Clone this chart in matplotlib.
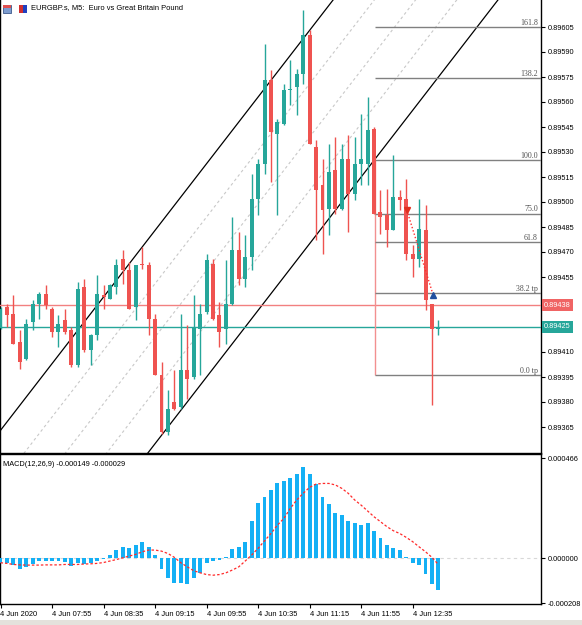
import matplotlib
matplotlib.use('Agg')
import matplotlib.pyplot as plt
from matplotlib.patches import Rectangle

plt.rcParams['font.family'] = ['Liberation Sans', 'DejaVu Sans']

# EURGBP.s M5 candles, 4 Jun 2020 07:15 .. 12:55 (one value per bar)
open_ = [0.89425, 0.89437, 0.89433, 0.89416, 0.89406, 0.89428, 0.89439, 0.89445, 0.89436, 0.89422,
         0.89429, 0.89423, 0.89402, 0.89449, 0.89411, 0.89420, 0.89444, 0.89442, 0.89449, 0.89466,
         0.89459, 0.89437, 0.89463, 0.89462, 0.89430, 0.89396, 0.89362, 0.89380, 0.89377, 0.89399,
         0.89395, 0.89424, 0.89434, 0.89463, 0.89432, 0.89424, 0.89439, 0.89471, 0.89454, 0.89467,
         0.89502, 0.89523, 0.89573, 0.89541, 0.89547, 0.89567, 0.89569, 0.89577, 0.89600, 0.89533,
         0.89510, 0.89496, 0.89519, 0.89496, 0.89526, 0.89505, 0.89523, 0.89523, 0.89544, 0.89494,
         0.89492, 0.89483, 0.89503, 0.89502, 0.89469, 0.89466, 0.89483, 0.89439, 0.89424]
high = [0.89437, 0.89439, 0.89444, 0.89423, 0.89430, 0.89441, 0.89446, 0.89450, 0.89437, 0.89432,
        0.89436, 0.89425, 0.89452, 0.89454, 0.89421, 0.89456, 0.89450, 0.89451, 0.89466, 0.89471,
        0.89464, 0.89462, 0.89473, 0.89464, 0.89433, 0.89404, 0.89387, 0.89399, 0.89433, 0.89426,
        0.89444, 0.89439, 0.89469, 0.89466, 0.89440, 0.89465, 0.89491, 0.89482, 0.89480, 0.89517,
        0.89526, 0.89595, 0.89579, 0.89550, 0.89571, 0.89585, 0.89580, 0.89615, 0.89603, 0.89537,
        0.89526, 0.89535, 0.89539, 0.89535, 0.89540, 0.89539, 0.89553, 0.89563, 0.89545, 0.89507,
        0.89508, 0.89528, 0.89507, 0.89514, 0.89474, 0.89502, 0.89498, 0.89439, 0.89429]
low = [0.89424, 0.89425, 0.89415, 0.89400, 0.89405, 0.89423, 0.89430, 0.89436, 0.89419, 0.89413,
       0.89421, 0.89401, 0.89401, 0.89410, 0.89402, 0.89417, 0.89436, 0.89442, 0.89445, 0.89451,
       0.89436, 0.89429, 0.89460, 0.89420, 0.89396, 0.89361, 0.89360, 0.89375, 0.89376, 0.89382,
       0.89394, 0.89396, 0.89433, 0.89429, 0.89413, 0.89415, 0.89438, 0.89450, 0.89449, 0.89459,
       0.89492, 0.89517, 0.89512, 0.89492, 0.89546, 0.89558, 0.89552, 0.89571, 0.89535, 0.89477,
       0.89469, 0.89480, 0.89493, 0.89495, 0.89482, 0.89501, 0.89510, 0.89510, 0.89493, 0.89481,
       0.89473, 0.89483, 0.89495, 0.89465, 0.89455, 0.89461, 0.89435, 0.89378, 0.89420]
close = [0.89436, 0.89432, 0.89415, 0.89404, 0.89427, 0.89439, 0.89445, 0.89438, 0.89422, 0.89427,
         0.89422, 0.89402, 0.89448, 0.89411, 0.89420, 0.89445, 0.89443, 0.89450, 0.89462, 0.89459,
         0.89436, 0.89462, 0.89462, 0.89430, 0.89396, 0.89362, 0.89376, 0.89376, 0.89399, 0.89394,
         0.89425, 0.89433, 0.89465, 0.89430, 0.89422, 0.89439, 0.89471, 0.89454, 0.89467, 0.89502,
         0.89523, 0.89573, 0.89542, 0.89548, 0.89567, 0.89568, 0.89577, 0.89600, 0.89535, 0.89507,
         0.89495, 0.89518, 0.89496, 0.89526, 0.89505, 0.89523, 0.89526, 0.89543, 0.89493, 0.89491,
         0.89483, 0.89503, 0.89501, 0.89469, 0.89466, 0.89484, 0.89441, 0.89424, 0.89425]

# MACD(12,26,9) in millionths
macd_main = [-23, -23, -31, -47, -39, -28, -12, -11, -11, -12, -16, -34, -23, -28, -23, -11, -3, 16, 39, 54,
             47, 62, 75, 54, 16, -50, -89, -113, -113, -120, -93, -67, -20, -12, -8, 5, 43, 54, 78, 174,
             256, 287, 318, 349, 362, 373, 393, 427, 393, 345, 284, 253, 213, 202, 174, 163, 155, 163, 127, 93,
             62, 50, 39, 5, -23, -31, -73, -120, -149]
macd_signal = [-20, -23, -28, -30, -31, -31, -31, -30, -30, -30, -28, -28, -28, -26, -25, -23, -19, -12, -5, 3,
               11, 19, 31, 39, 39, 34, 23, 5, -20, -39, -57, -67, -75, -78, -75, -67, -54, -39, -12, 16,
               47, 82, 116, 155, 186, 233, 272, 303, 331, 346, 349, 349, 342, 326, 303, 272, 248, 221, 194, 171,
               148, 129, 116, 98, 78, 54, 31, 5, -29]

time_ticks = [0, 8, 16, 24, 32, 40, 48, 56, 64]
time_labels = ['4 Jun 2020', '4 Jun 07:55', '4 Jun 08:35', '4 Jun 09:15', '4 Jun 09:55',
               '4 Jun 10:35', '4 Jun 11:15', '4 Jun 11:55', '4 Jun 12:35']
price_ticks = [0.89365, 0.89380, 0.89395, 0.89410, 0.89425, 0.89440, 0.89455, 0.89470,
               0.89485, 0.89500, 0.89515, 0.89530, 0.89545, 0.89560, 0.89575, 0.89590, 0.89605]
macd_ticks = [-0.000208, 0.0, 0.000466]

bid_price = 0.89425
ask_price = 0.89438

# fibonacci retracement
fib_bar = 58.2
fib_p0, fib_p100 = 0.89396, 0.89525
fib_levels = [0.0, 38.2, 61.8, 75.0, 100.0, 138.2, 161.8]
fib_labels = ['0.0 tp', '38.2 tp', '61.8', '75.0', '100.0', '138.2', '161.8']

# equidistant channel (upper line anchors + width)
chan_x = [0, 40]
chan_y = [0.89363, 0.89563]
chan_width = 0.00128

# closed trade
trade_x = [63.1, 67.2]
trade_y = [0.89495, 0.89444]

BULL = '#26a69a'
BEAR = '#ef5350'

fig = plt.figure(figsize=(5.82, 6.25), dpi=100)
ax = fig.add_axes([0, 1 - 452.5 / 625, 541 / 582, 452.5 / 625])
axm = fig.add_axes([0, 21 / 625, 541 / 582, 150 / 625])

xlim = (-0.5 / 6.44, 540.5 / 6.44)
n = len(close)
idx = list(range(n))

# candles
for i in idx:
    col = BULL if close[i] >= open_[i] else BEAR
    ax.vlines(i, low[i], high[i], color=col, lw=1, zorder=4)
    h = max(abs(close[i] - open_[i]), 0.000004)
    ax.bar(i, h, bottom=min(open_[i], close[i]), width=0.62, color=col, lw=0, zorder=5)

# channel
slope = (chan_y[1] - chan_y[0]) / (chan_x[1] - chan_x[0])
xs = [xlim[0], xlim[1]]
upper = [chan_y[0] + slope * (x - chan_x[0]) for x in xs]
ax.plot(xs, upper, color='black', lw=0.9, zorder=3)
ax.plot(xs, [u - chan_width for u in upper], color='black', lw=0.9, zorder=3)
for f in [0.25, 0.5, 0.75]:
    ax.plot(xs, [u - chan_width * f for u in upper], color='#c8c8c8', lw=0.8,
            ls=(0, (2.5, 2.5)), zorder=2)

# bid / ask lines
ax.axhline(ask_price, color='#f28080', lw=1, zorder=3)
ax.axhline(bid_price, color=BULL, lw=1, zorder=3)

# fibonacci
fib_prices = [fib_p0 + (fib_p100 - fib_p0) * lv / 100 for lv in fib_levels]
ax.vlines(fib_bar, fib_p0, fib_p100, color='#f29090', lw=1, zorder=3)
for p, lab in zip(fib_prices, fib_labels):
    ax.hlines(p, fib_bar, xlim[1], color='#808080', lw=1, zorder=3)
    ax.text(xlim[1] - 0.5, p + 0.000004, lab, ha='right', va='bottom', fontsize=5.7,
            family='Liberation Serif', color='#505050', zorder=6)

# trade
ax.plot(trade_x, trade_y, color='#ff3030', lw=1, ls=(0, (1, 1.5)), zorder=6)
ax.plot(trade_x[0], trade_y[0], marker='v', color='#e03020', ms=4, zorder=7)
ax.plot(trade_x[1], trade_y[1], marker='^', color='#2050a0', ms=4, zorder=7)

ax.set_xlim(*xlim)
ax.set_ylim(0.893497, 0.896212)
ax.yaxis.tick_right()
ax.set_yticks(price_ticks)
# labels covered by the bid/ask boxes are left out
ax.set_yticklabels(['' if abs(p - bid_price) < 5e-5 or abs(p - ask_price) < 5e-5 else '%.5f' % p
                    for p in price_ticks])
ax.tick_params(axis='y', direction='out', length=3, width=0.8, pad=1.5, labelsize=5.3)
ax.set_xticks([])
ax.spines['top'].set_visible(False)
for s in ['left', 'right', 'bottom']:
    ax.spines[s].set_linewidth(1)

# price boxes on the axis
for p, col in [(ask_price, '#f06464'), (bid_price, BULL)]:
    ax.text(1.006, p, '%.5f' % p, transform=ax.get_yaxis_transform(), ha='left', va='center',
            fontsize=5.3, color='white', clip_on=False, zorder=10,
            bbox=dict(boxstyle='square,pad=0.32', fc=col, ec='none'))

# title with icons
ax.text(0.058, 0.983, 'EURGBP.s, M5:  Euro vs Great Britain Pound', transform=ax.transAxes,
        fontsize=5.4, ha='left', va='center', color='black', zorder=10)
fig.patches.append(Rectangle((3 / 582, 1 - 13 / 625), 8 / 582, 8 / 625, transform=fig.transFigure,
                             fc='#7d9ccf', ec='#3c5a8c', lw=0.6))
fig.patches.append(Rectangle((3 / 582, 1 - 8 / 625), 8 / 582, 3 / 625, transform=fig.transFigure,
                             fc='#e05050', ec='none'))
fig.patches.append(Rectangle((19 / 582, 1 - 13 / 625), 4 / 582, 8 / 625, transform=fig.transFigure,
                             fc='#d03030', ec='none'))
fig.patches.append(Rectangle((23 / 582, 1 - 13 / 625), 4 / 582, 8 / 625, transform=fig.transFigure,
                             fc='#2040c0', ec='none'))

# MACD panel
axm.axhline(0, color='#d8d8d8', lw=0.8, ls=(0, (3, 3)), zorder=1)
axm.bar(idx, [v * 1e-6 for v in macd_main], width=0.6, color='#14b0f5', lw=0, zorder=3)
axm.plot(idx, [v * 1e-6 for v in macd_signal], color='#ff2a2a', lw=0.9, ls=(0, (2, 1.6)), zorder=4)
axm.text(0.006, 0.955, 'MACD(12,26,9) -0.000149 -0.000029', transform=axm.transAxes,
         fontsize=5.3, ha='left', va='top')
axm.set_xlim(*xlim)
axm.set_ylim(-0.000212, 0.000486)
axm.yaxis.tick_right()
axm.set_yticks(macd_ticks)
axm.set_yticklabels(['%.6f' % v if v != 0 else '0.000000' for v in macd_ticks])
axm.tick_params(axis='y', direction='out', length=3, width=0.8, pad=1.5, labelsize=5.3)
axm.set_xticks(time_ticks)
axm.set_xticklabels(time_labels)
axm.tick_params(axis='x', direction='out', length=3, width=0.8, pad=2, labelsize=5.4)
for lab in axm.get_xticklabels():
    lab.set_horizontalalignment('left')
for s in axm.spines.values():
    s.set_linewidth(1)

# window frame at the bottom
fig.patches.append(Rectangle((0, 0), 1, 5 / 625, transform=fig.transFigure, fc='#e4e2dc', ec='none'))

fig.savefig('out.png', dpi=100, facecolor='white')
